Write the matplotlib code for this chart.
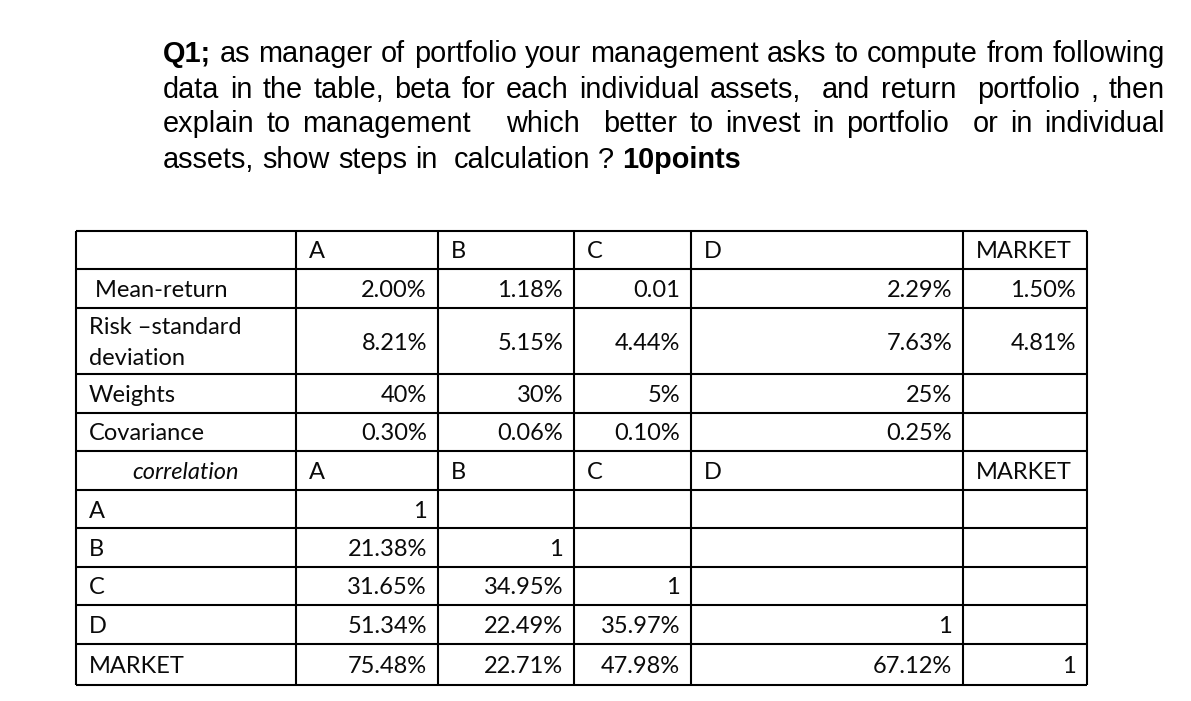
import re
import matplotlib
matplotlib.use('Agg')
import matplotlib.pyplot as plt

# question text (** marks bold words)
question = [
    '**Q1;** as manager of portfolio your management asks to compute from following',
    'data in the table, beta for each individual assets,  and return  portfolio , then',
    'explain to management   which  better to invest in portfolio  or in individual',
    'assets, show steps in  calculation ? **10points**',
]

# table data
assets = ['A', 'B', 'C', 'D', 'MARKET']
stat_labels = [' Mean-return', 'Risk \u2013standard\ndeviation', 'Weights', 'Covariance']
mean_return = ['2.00%', '1.18%', '0.01', '2.29%', '1.50%']
risk_sd = ['8.21%', '5.15%', '4.44%', '7.63%', '4.81%']
weights = ['40%', '30%', '5%', '25%', '']
covariance = ['0.30%', '0.06%', '0.10%', '0.25%', '']
corr_A = ['1', '', '', '', '']
corr_B = ['21.38%', '1', '', '', '']
corr_C = ['31.65%', '34.95%', '1', '', '']
corr_D = ['51.34%', '22.49%', '35.97%', '1', '']
corr_M = ['75.48%', '22.71%', '47.98%', '67.12%', '1']

# layout (pixels)
W, H = 1191, 701
col_edges = [76, 296, 438, 574, 691, 963, 1087]
row_edges = [231, 269, 308, 374, 413, 451, 490, 528, 567, 605, 644, 685]
q_left, q_right = 163, 1165
q_base = [62.5, 97.5, 132.5, 167.5]
fs_q = 20.8
fs_t = 17
tfont = 'Lato'
cap = 8.5  # half cap height in px

fig = plt.figure(figsize=(W / 100, H / 100), dpi=100)
ax = fig.add_axes([0, 0, 1, 1])
ax.set_xlim(0, W)
ax.set_ylim(H, 0)
ax.axis('off')
renderer = fig.canvas.get_renderer()

# question, justified like in a word processor
space_w = 0.278 * fs_q * 100 / 72
for k, line in enumerate(question):
    parts = re.split(r'( +)', line)
    words = parts[0::2]
    gaps = [len(g) for g in parts[1::2]]
    texts = []
    for w in words:
        bold = w.startswith('**')
        t = ax.text(0, q_base[k], w.strip('*'), fontsize=fs_q, family='Liberation Sans',
                    weight='bold' if bold else 'normal', va='baseline', ha='left')
        texts.append(t)
    widths = [t.get_window_extent(renderer).width for t in texts]
    if k < len(question) - 1:
        sp = (q_right - q_left - sum(widths)) / sum(gaps)
    else:
        sp = space_w
    x = q_left
    for i, t in enumerate(texts):
        t.set_x(x)
        x += widths[i] + (sp * gaps[i] if i < len(gaps) else 0)

# grid
ax.hlines(row_edges, col_edges[0], col_edges[-1], color='black', lw=1.5)
ax.vlines(col_edges, row_edges[0], row_edges[-1], color='black', lw=1.5)


def cell(r, c, s, align='right', **kw):
    yc = (row_edges[r] + row_edges[r + 1]) / 2
    if align == 'right':
        x, ha = col_edges[c + 1] - 11, 'right'
    elif align == 'left':
        x, ha = col_edges[c] + 13, 'left'
    else:
        x, ha = (col_edges[c] + col_edges[c + 1]) / 2, 'center'
    lines = s.split('\n')
    for j, ln in enumerate(lines):
        y = yc + cap + (j - (len(lines) - 1) / 2) * 31
        ax.text(x, y, ln, fontsize=fs_t, family=tfont, ha=ha, va='baseline',
                color='#0a0a0a', **kw)


# header rows
for j, a in enumerate(assets):
    cell(0, j + 1, a, 'left')
    cell(5, j + 1, a, 'left')
cell(5, 0, 'correlation', 'center', style='italic')

stats = [mean_return, risk_sd, weights, covariance]
for i, (lab, vals) in enumerate(zip(stat_labels, stats)):
    cell(i + 1, 0, lab, 'left')
    for j, v in enumerate(vals):
        cell(i + 1, j + 1, v)

corr = [corr_A, corr_B, corr_C, corr_D, corr_M]
for i, (a, vals) in enumerate(zip(assets, corr)):
    cell(i + 6, 0, a, 'left')
    for j, v in enumerate(vals):
        cell(i + 6, j + 1, v)

fig.savefig('out.png', dpi=100, facecolor='white')
